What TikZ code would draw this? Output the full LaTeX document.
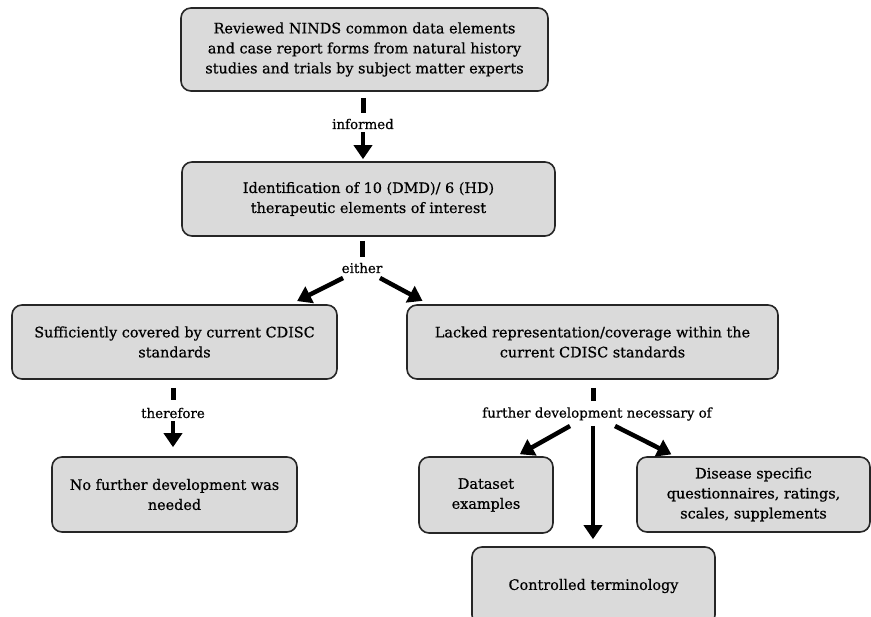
\documentclass[tikz,border=0pt]{standalone}
\usepackage{fontspec}
\setmainfont{DejaVu Serif}[FakeBold=0.6]
\usepackage{tikz}
\usetikzlibrary{arrows.meta, positioning}
\definecolor{boxgray}{RGB}{218,218,218}
\tikzstyle{block} = [draw=black!85, line width=1.6pt, fill=boxgray, rounded corners=10pt, align=center, inner sep=0pt, font=\fontsize{14.4}{20}\selectfont]
\tikzstyle{word} = [inner sep=1pt, font=\fontsize{13.4}{16}\selectfont]
\tikzstyle{stub} = [line width=5pt]
\tikzstyle{arrow} = [line width=4.5pt, -{Triangle[length=14pt,width=18pt]}]

\begin{document}
\begin{tikzpicture}[x=1pt, y=-1pt]
	\useasboundingbox (0, 0) rectangle (871, 617);
	\clip (0, 0) rectangle (871, 617);

	\node (Reviewed) [block, minimum width=367pt, minimum height=83pt] at (364.5, 49.5) {Reviewed NINDS common data elements\\and case report forms from natural history\\studies and trials by subject matter experts};
	\node (Identified) [block, minimum width=373pt, minimum height=74pt] at (368.5, 199) {Identification of 10 (DMD)/ 6 (HD)\\therapeutic elements of interest};
	\node (Covered) [block, minimum width=325pt, minimum height=74pt] at (174.5, 342) {Sufficiently covered by current CDISC\\standards};
	\node (Lacked) [block, minimum width=371pt, minimum height=74pt] at (592.5, 342) {Lacked representation/coverage within the\\current CDISC standards};
	\node (NoFurther) [block, minimum width=245pt, minimum height=75pt] at (174.5, 494.5) {No further development was\\needed};
	\node (Dataset) [block, minimum width=134pt, minimum height=76pt] at (486, 495) {Dataset\\examples};
	\node (Disease) [block, minimum width=233pt, minimum height=75pt] at (753.5, 494.5) {Disease specific\\questionnaires, ratings,\\scales, supplements};
	\node (Terms) [block, minimum width=243pt, minimum height=78pt] at (593.5, 586) {Controlled terminology};

	\node (Informed) [word] at (363, 124) {informed};
	\node (Either) [word] at (362, 268) {either};
	\node (Therefore) [word] at (173, 413) {therefore};
	\node (Further) [word] at (597, 414) {further development necessary of};

	\coordinate (InformedTop) at (363, 113);
	\coordinate (EitherTop) at (362, 257);
	\coordinate (ThereforeTop) at (173, 400);
	\coordinate (FurtherTop) at (593, 401);

	\draw [stub, shorten <=6pt] (Reviewed.south -| InformedTop) -- (InformedTop);
	\draw [stub, shorten <=4pt] (Identified.south -| EitherTop) -- (EitherTop);
	\draw [stub, shorten <=8pt] (Covered.south -| ThereforeTop) -- (ThereforeTop);
	\draw [stub, shorten <=8pt] (Lacked.south -| FurtherTop) -- (FurtherTop);

	\coordinate (EitherL) at (343, 278);
	\coordinate (EitherR) at (380, 278);
	\coordinate (FurtherL) at (570, 426);
	\coordinate (FurtherM) at (593, 426);
	\coordinate (FurtherR) at (615, 426);

	\draw [arrow, shorten <=2pt, shorten >=2pt] (Informed.south -| InformedTop) -- (Identified.north -| InformedTop);
	\draw [arrow, shorten >=7pt] (EitherL) -- (Covered.18);
	\draw [arrow, shorten >=7pt] (EitherR) -- (Lacked.167);
	\draw [arrow, shorten <=2pt, shorten >=9pt] (Therefore.south -| ThereforeTop) -- (NoFurther.north -| ThereforeTop);
	\draw [arrow, shorten >=4pt] (FurtherL) -- (Dataset.52);
	\draw [arrow, shorten >=7pt] (FurtherM) -- (Terms.north -| FurtherM);
	\draw [arrow, shorten >=4pt] (FurtherR) -- (Disease.154);
\end{tikzpicture}
\end{document}
